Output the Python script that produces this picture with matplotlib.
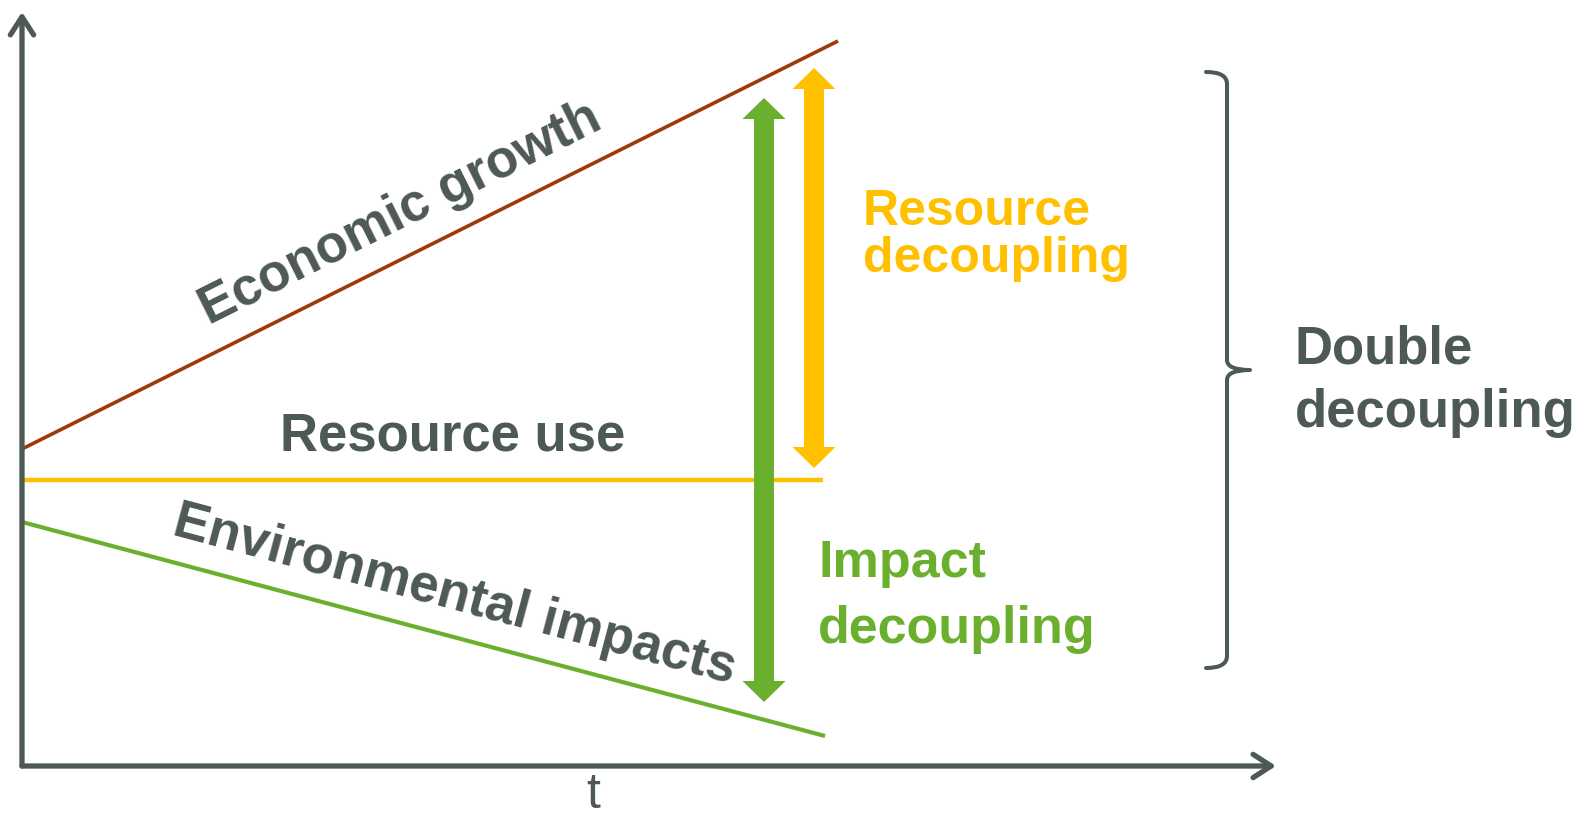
import matplotlib
matplotlib.use("Agg")
import matplotlib.pyplot as plt
from matplotlib.patches import FancyArrowPatch, Polygon, PathPatch
from matplotlib.path import Path

plt.rcParams['font.family'] = ['Liberation Sans', 'DejaVu Sans']

# colours
GREY = "#4d5956"
BROWN = "#a0390a"
YELLOW = "#ffc000"
GREEN = "#6ab02e"

# data (time on x, level on y)
t_growth = [0, 8.16]
growth = [3.17, 7.25]
t_resource = [0, 8.01]
resource = [2.86, 2.86]
t_impact = [0, 8.03]
impact = [2.44, 0.30]

impact_arrow_t = 7.42
impact_arrow_span = [0.64, 6.68]
resource_arrow_t = 7.92
resource_arrow_span = [2.98, 6.98]
brace_t = 12.05
brace_span = [0.98, 6.94]

W, H = 1580, 817
fig = plt.figure(figsize=(W / 100, H / 100), dpi=100)
# 1 data unit = 100 px in both directions, origin at the axes corner
ax = fig.add_axes([22 / W, 51 / H, 1 - 22 / W, 1 - 51 / H])
ax.set_xlim(0, (W - 22) / 100)
ax.set_ylim(0, (H - 51) / 100)
ax.axis("off")

# axes with open arrow heads
for end in [(0, 7.54), (12.54, 0)]:
    a = FancyArrowPatch((0, 0), end, arrowstyle="->,head_length=0.65,head_width=0.42",
                        mutation_scale=20, lw=3.8, color=GREY, shrinkA=0, shrinkB=0,
                        capstyle="round", joinstyle="round", clip_on=False, zorder=5)
    ax.add_patch(a)

# the three curves
ax.plot(t_growth, growth, color=BROWN, lw=2.6, solid_capstyle="butt", zorder=2)
ax.plot(t_resource, resource, color=YELLOW, lw=3.2, solid_capstyle="butt", zorder=2)
ax.plot(t_impact, impact, color=GREEN, lw=3.0, solid_capstyle="butt", zorder=2)


def double_arrow(x, y0, y1, color, shaft=0.2, head_w=0.43, head_len=0.21):
    s, h = shaft / 2, head_w / 2
    pts = [(x, y0), (x + h, y0 + head_len), (x + s, y0 + head_len),
           (x + s, y1 - head_len), (x + h, y1 - head_len), (x, y1),
           (x - h, y1 - head_len), (x - s, y1 - head_len),
           (x - s, y0 + head_len), (x - h, y0 + head_len)]
    ax.add_patch(Polygon(pts, closed=True, facecolor=color, edgecolor="none", zorder=4))


double_arrow(resource_arrow_t, *resource_arrow_span, YELLOW)
double_arrow(impact_arrow_t, *impact_arrow_span, GREEN)

# right-hand brace
b0, b1 = brace_span
mid = (b0 + b1) / 2
xl, xr = brace_t - 0.21, brace_t + 0.23
verts = [(xl, b1), (brace_t, b1), (brace_t, b1 - 0.12),
         (brace_t, mid + 0.1),
         (brace_t, mid), (xr, mid),
         (brace_t, mid), (brace_t, mid - 0.1),
         (brace_t, b0 + 0.12),
         (brace_t, b0), (xl, b0)]
codes = [Path.MOVETO, Path.CURVE3, Path.CURVE3,
         Path.LINETO,
         Path.CURVE3, Path.CURVE3,
         Path.CURVE3, Path.CURVE3,
         Path.LINETO,
         Path.CURVE3, Path.CURVE3]
ax.add_patch(PathPatch(Path(verts, codes), facecolor="none", edgecolor=GREY,
                       lw=2.9, capstyle="round", joinstyle="round", zorder=3))

# labels
bold = dict(fontweight="bold", color=GREY, fontsize=38)
ax.text(3.78, 5.52, "Economic growth", rotation=26.57, rotation_mode="anchor",
        ha="center", va="center", **bold)
ax.text(4.31, 3.30, "Resource use", ha="center", va="center", **bold)
ax.text(4.33, 1.71, "Environmental impacts", rotation=-14.9, rotation_mode="anchor",
        ha="center", va="center", **bold)

ax.text(8.41, 5.41, "Resource", ha="left", va="baseline", fontsize=36,
        fontweight="bold", color=YELLOW)
ax.text(8.41, 4.94, "decoupling", ha="left", va="baseline", fontsize=36,
        fontweight="bold", color=YELLOW)
ax.text(7.96, 1.89, "Impact", ha="left", va="baseline", fontsize=37.5,
        fontweight="bold", color=GREEN)
ax.text(7.96, 1.23, "decoupling", ha="left", va="baseline", fontsize=37.5,
        fontweight="bold", color=GREEN)
ax.text(12.73, 4.03, "Double", ha="left", va="baseline", fontsize=38,
        fontweight="bold", color=GREY)
ax.text(12.73, 3.39, "decoupling", ha="left", va="baseline", fontsize=38,
        fontweight="bold", color=GREY)

ax.text(5.71, -0.42, "t", ha="center", va="baseline", fontsize=36, color=GREY,
        clip_on=False)

fig.savefig("out.png", dpi=100, facecolor="white")
